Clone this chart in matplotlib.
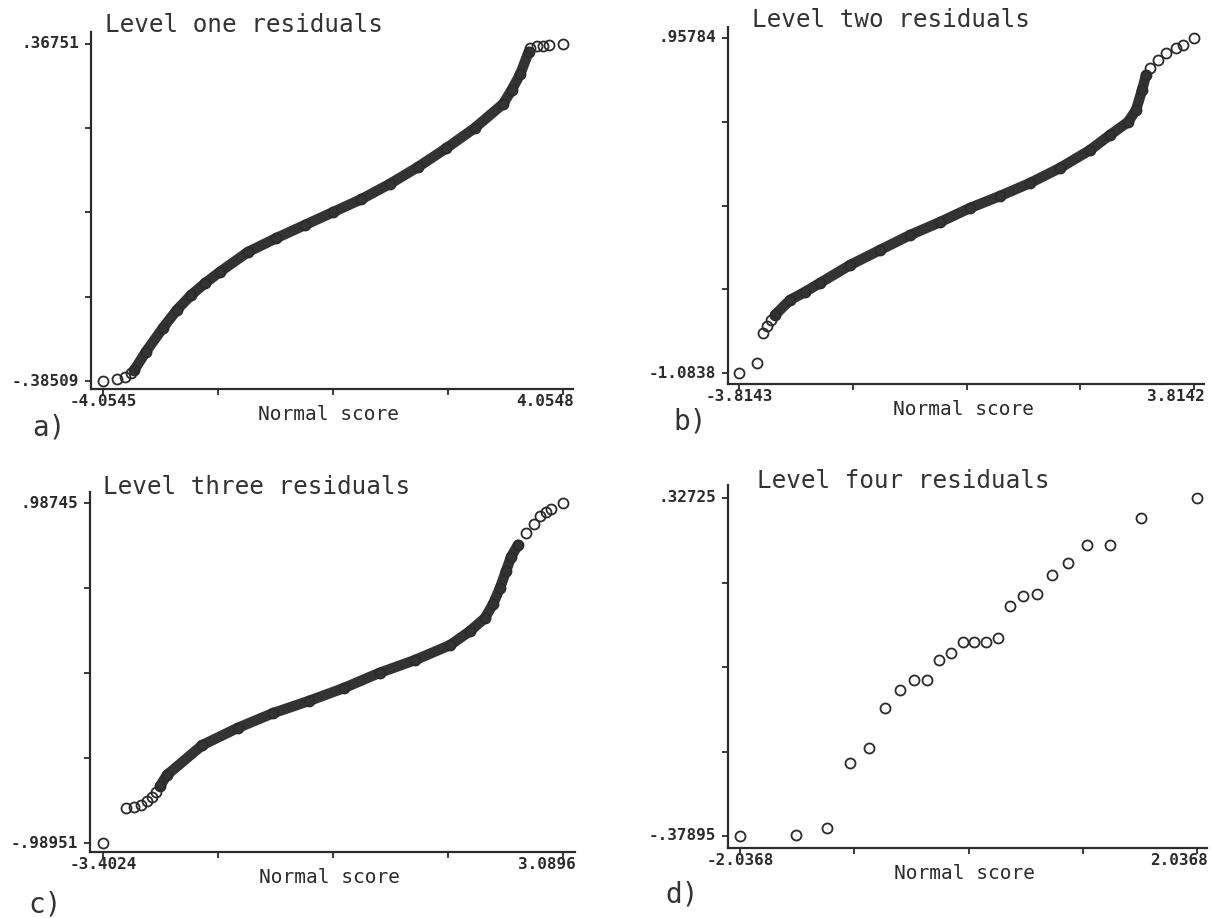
import matplotlib
matplotlib.use("Agg")
import matplotlib.pyplot as plt

# ---------------- data: normal scores and residuals ----------------
# Level one (tails drawn as separate circles, body is a dense run of points)
l1_lo_x = [-4.0545, -3.808, -3.667, -3.561]
l1_lo_y = [-0.38509, -0.381, -0.376, -0.367]
l1_body_x = [-3.50, -3.30, -3.00, -2.75, -2.50, -2.25, -2.00, -1.50, -1.00,
             -0.50, 0.00, 0.50, 1.00, 1.50, 2.00, 2.50, 3.00, 3.15, 3.30,
             3.45]
l1_body_y = [-0.360, -0.320, -0.267, -0.226, -0.193, -0.166, -0.142, -0.097,
             -0.066, -0.037, -0.008, 0.021, 0.055, 0.093, 0.135, 0.180, 0.234,
             0.265, 0.300, 0.350]
l1_hi_x = [3.473, 3.597, 3.702, 3.808, 4.0548]
l1_hi_y = [0.3586, 0.3631, 0.3631, 0.3653, 0.36751]

# Level two
l2_lo_x = [-3.8143, -3.513, -3.412, -3.345, -3.278]
l2_lo_y = [-1.0838, -1.023, -0.840, -0.797, -0.761]
l2_body_x = [-3.211, -2.959, -2.708, -2.456, -1.953, -1.450, -0.947, -0.444,
             0.059, 0.562, 1.065, 1.568, 2.071, 2.406, 2.708, 2.842, 2.943,
             3.010]
l2_body_y = [-0.730, -0.639, -0.590, -0.535, -0.426, -0.334, -0.243, -0.164,
             -0.078, -0.005, 0.074, 0.166, 0.275, 0.367, 0.446, 0.519, 0.641,
             0.732]
l2_hi_x = [3.077, 3.211, 3.345, 3.513, 3.630, 3.8142]
l2_hi_y = [0.775, 0.824, 0.867, 0.897, 0.915, 0.95784]

# Level three
l3_lo_x = [-3.4024, -3.08, -2.96, -2.86, -2.78, -2.71, -2.65]
l3_lo_y = [-0.98951, -0.785, -0.780, -0.768, -0.745, -0.722, -0.693]
l3_body_x = [-2.60, -2.50, -2.00, -1.50, -1.00, -0.50, 0.00, 0.50, 1.00,
             1.50, 1.777, 1.989, 2.102, 2.200, 2.285, 2.356, 2.455]
l3_body_y = [-0.660, -0.594, -0.420, -0.320, -0.234, -0.164, -0.088, 0.000,
             0.074, 0.162, 0.243, 0.319, 0.400, 0.493, 0.592, 0.674, 0.744]
l3_hi_x = [2.568, 2.680, 2.765, 2.850, 2.920, 3.0896]
l3_hi_y = [0.813, 0.865, 0.912, 0.935, 0.953, 0.98745]

# Level four
l4_x = [-2.0368, -1.534, -1.258, -1.054, -0.887, -0.742, -0.610, -0.489,
        -0.374, -0.264, -0.157, -0.052, 0.052, 0.157, 0.264, 0.374, 0.489,
        0.610, 0.742, 0.887, 1.054, 1.258, 1.534, 2.0368]
l4_y = [-0.37895, -0.376, -0.362, -0.226, -0.195, -0.111, -0.074, -0.053,
        -0.053, -0.011, 0.003, 0.026, 0.026, 0.026, 0.035, 0.102, 0.123,
        0.127, 0.166, 0.191, 0.229, 0.229, 0.285, 0.32725]

titles = ["Level one residuals", "Level two residuals",
          "Level three residuals", "Level four residuals"]
panel_tags = ["a)", "b)", "c)", "d)"]
x_tick_text = [("-4.0545", "4.0548"), ("-3.8143", "3.8142"),
               ("-3.4024", "3.0896"), ("-2.0368", "2.0368")]
y_tick_text = [("-.38509", ".36751"), ("-1.0838", ".95784"),
               ("-.98951", ".98745"), ("-.37895", ".32725")]
x_label = "Normal score"

# ---------------- layout (figure pixels) ----------------
W, H = 1213, 918
INK = "#2b2b2b"
MONO = "DejaVu Sans Mono"

# axes box: left, right, top, bottom ; tick extents: x_lo, x_hi, y_top, y_bottom
boxes = [
    dict(box=(91, 573, 32, 389), xt=(103, 563), yt=(44, 381),
         title=(105, 32), tag=(32, 436)),
    dict(box=(728, 1204, 27, 384), xt=(739, 1194), yt=(38, 373),
         title=(752, 27), tag=(673, 430)),
    dict(box=(90, 575, 492, 852), xt=(103, 563), yt=(503, 843),
         title=(103, 494), tag=(28, 913)),
    dict(box=(728, 1207, 485, 848), xt=(740, 1197), yt=(498, 836),
         title=(757, 488), tag=(665, 903)),
]

series = [
    (l1_lo_x, l1_lo_y, l1_body_x, l1_body_y, l1_hi_x, l1_hi_y),
    (l2_lo_x, l2_lo_y, l2_body_x, l2_body_y, l2_hi_x, l2_hi_y),
    (l3_lo_x, l3_lo_y, l3_body_x, l3_body_y, l3_hi_x, l3_hi_y),
    (l4_x, l4_y, None, None, None, None),
]

fig = plt.figure(figsize=(W / 100, H / 100), dpi=100)
fig.patch.set_facecolor("white")


def px_to_fig(x, y):
    return x / W, 1 - y / H


marker_kw = dict(marker="o", ls="none", ms=7.2, mfc="none", mec=INK, mew=1.3)

for i, spec in enumerate(boxes):
    l, r, t, b = spec["box"]
    ax = fig.add_axes([l / W, 1 - b / H, (r - l) / W, (b - t) / H])
    lo_x, lo_y, body_x, body_y, hi_x, hi_y = series[i]

    xs = list(lo_x) + (list(body_x) if body_x else []) + (list(hi_x) if hi_x else [])
    ys = list(lo_y) + (list(body_y) if body_y else []) + (list(hi_y) if hi_y else [])
    xmin, xmax = min(xs), max(xs)
    ymin, ymax = min(ys), max(ys)

    # map the extreme values onto the tick pixel positions
    xp0, xp1 = spec["xt"]
    yp_top, yp_bot = spec["yt"]
    sx = (xmax - xmin) / (xp1 - xp0)
    sy = (ymax - ymin) / (yp_bot - yp_top)
    ax.set_xlim(xmin - (xp0 - l) * sx, xmax + (r - xp1) * sx)
    ax.set_ylim(ymin - (b - yp_bot) * sy, ymax + (yp_top - t) * sy)

    if body_x:
        ax.plot(body_x, body_y, "-", color="#333333", lw=7.5,
                solid_capstyle="round", solid_joinstyle="round", zorder=2)
        ax.plot(body_x, body_y, **marker_kw, zorder=3)
    ax.plot(lo_x, lo_y, **marker_kw, zorder=3)
    if hi_x:
        ax.plot(hi_x, hi_y, **marker_kw, zorder=3)

    # axes styling
    for side in ("top", "right"):
        ax.spines[side].set_visible(False)
    for side in ("left", "bottom"):
        ax.spines[side].set_color(INK)
        ax.spines[side].set_linewidth(1.6)
    ax.set_facecolor("none")
    xticks = [xmin + k * (xmax - xmin) / 4 for k in range(5)]
    yticks = [ymin + k * (ymax - ymin) / 4 for k in range(5)]
    ax.set_xticks(xticks)
    ax.set_yticks(yticks)
    ax.set_xticklabels([])
    ax.set_yticklabels([])
    ax.tick_params(direction="out", length=4.5, width=1.3, color=INK)

    # end-of-axis values
    xl, xr = x_tick_text[i]
    yb, yt_ = y_tick_text[i]
    tick_font = dict(family=MONO, fontsize=11.5, fontweight="bold", color=INK)
    fx, fy = px_to_fig(xp0, b + 5)
    fig.text(fx, fy, xl, ha="center", va="top", **tick_font)
    fx, fy = px_to_fig(r + 1, b + 5)
    fig.text(fx, fy, xr, ha="right", va="top", **tick_font)
    fx, fy = px_to_fig(l - 12, yp_bot)
    fig.text(fx, fy, yb, ha="right", va="center", **tick_font)
    fx, fy = px_to_fig(l - 12, yp_top)
    fig.text(fx, fy, yt_, ha="right", va="center", **tick_font)

    # axis label
    fx, fy = px_to_fig((l + r) / 2 - 3, b + 31)
    fig.text(fx, fy, x_label, ha="center", va="baseline", family=MONO,
             fontsize=14, color=INK)

    # panel title and tag
    tx, ty = spec["title"]
    fx, fy = px_to_fig(tx, ty)
    fig.text(fx, fy, titles[i], ha="left", va="baseline", family=MONO,
             fontsize=17.5, color="#333333")
    gx, gy = spec["tag"]
    fx, fy = px_to_fig(gx, gy)
    fig.text(fx, fy, panel_tags[i], ha="left", va="baseline", family=MONO,
             fontsize=20, color="#333333")

fig.savefig("out.png", dpi=100, facecolor="white")
